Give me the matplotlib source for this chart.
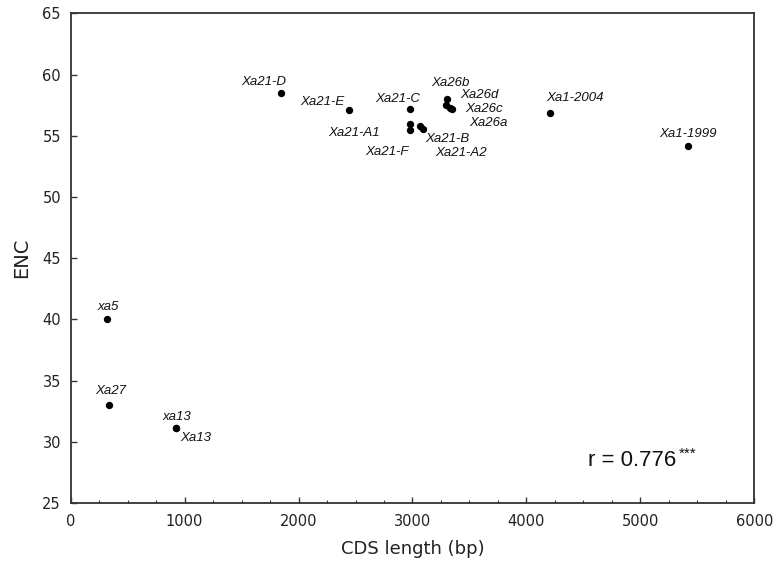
import numpy as np
import matplotlib
matplotlib.use('Agg')
import matplotlib.pyplot as plt
from matplotlib.ticker import MultipleLocator

# data
genes = ['xa5', 'Xa27', 'xa13', 'Xa13',
         'Xa21-D', 'Xa21-E', 'Xa21-C', 'Xa21-A1', 'Xa21-F', 'Xa21-B', 'Xa21-A2',
         'Xa26b', 'Xa26d', 'Xa26c', 'Xa26a', 'Xa1-2004', 'Xa1-1999']
cds_len = [316, 339, 921, 921,
           1843, 2443, 2981, 2981, 2981, 3066, 3090,
           3306, 3294, 3344, 3329, 4207, 5415]
enc = [40.0, 33.0, 31.1, 31.1,
       58.5, 57.1, 57.2, 56.0, 55.5, 55.8, 55.6,
       58.0, 57.5, 57.2, 57.3, 56.9, 54.2]

# label offsets in pixels (text centre relative to the dot)
label_offsets = [(2, 12), (1, 14), (1, 11), (20, -10),
                 (-17, 11), (-27, 8), (-13, 10), (-56, -9), (-23, -22), (27, -13), (38, -24),
                 (3, 16), (33, 10), (32, 0), (38, -15), (25, 15), (0, 12)]

r_text = 'r = 0.776'

fig = plt.figure(figsize=(7.75, 5.72), dpi=100)
ax = fig.add_axes([0.0912, 0.1206, 0.8821, 0.8558])

ax.scatter(cds_len, enc, s=28, color='black', zorder=3, linewidths=0)

for name, x, y, (dx, dy) in zip(genes, cds_len, enc, label_offsets):
    ax.annotate(name, (x, y), xytext=(dx, dy), textcoords='offset pixels',
                ha='center', va='center', fontsize=9.5, style='italic',
                family='Liberation Sans', color='#111111')

ax.text(0.757, 0.086, r_text, transform=ax.transAxes, ha='left', va='center',
        fontsize=16, family='Liberation Sans', color='#111111')
ax.text(0.889, 0.100, '***', transform=ax.transAxes, ha='left', va='center',
        fontsize=11, family='Liberation Sans', color='#111111')

ax.set_xlim(0, 6000)
ax.set_ylim(25, 65)
ax.xaxis.set_major_locator(MultipleLocator(1000))
ax.xaxis.set_minor_locator(MultipleLocator(250))
ax.yaxis.set_major_locator(MultipleLocator(5))
ax.tick_params(axis='both', which='both', direction='in', color='#333333',
               top=False, right=False)
ax.tick_params(axis='both', which='major', length=4, width=1, labelsize=10.5,
               labelcolor='#222222')
ax.tick_params(axis='x', which='minor', length=2.5, width=0.8)
ax.tick_params(axis='y', which='major', pad=7)
ax.tick_params(axis='x', which='major', pad=8)

for sp in ax.spines.values():
    sp.set_color('#333333')
    sp.set_linewidth(1.3)

ax.set_xlabel('CDS length (bp)', fontsize=13, color='#222222', labelpad=8)
ax.set_ylabel('ENC', fontsize=14, color='#222222', labelpad=8)

fig.savefig('out.png', dpi=100)
